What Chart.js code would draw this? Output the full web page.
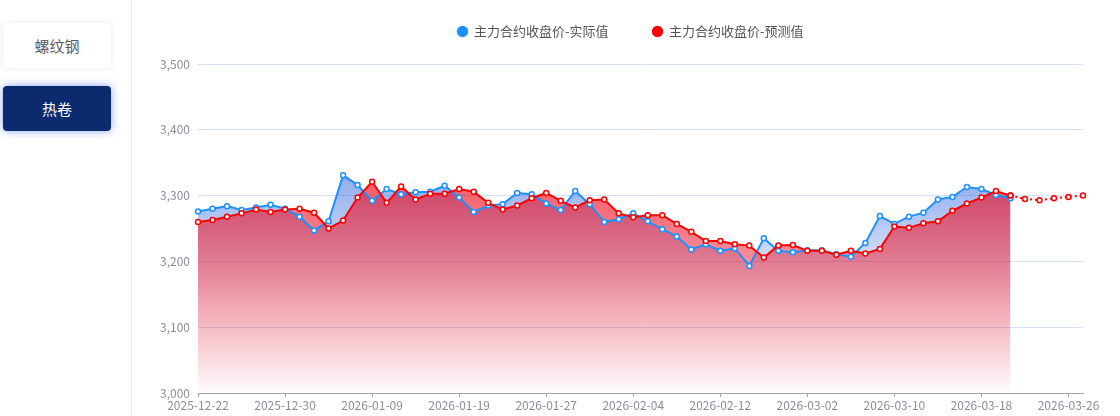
<!DOCTYPE html>
<html>
<head>
<meta charset="utf-8">
<script src="https://cdn.jsdelivr.net/npm/chart.js@4.4.1/dist/chart.umd.min.js"></script>
<style>
  html, body { margin: 0; padding: 0; background: #fff; width: 1120px; height: 416px; overflow: hidden; font-family: 'Noto Sans CJK SC', sans-serif; }
  .btn { position: absolute; left: 3px; width: 108px; height: 45px; border-radius: 4px; display: flex; align-items: center; justify-content: center; font-size: 15px; }
  #b1 { top: 23px; background: #fff; color: #5a5a66; box-shadow: 0 0 6px rgba(0,0,0,0.09); }
  #b2 { top: 86px; background: #0c2a6e; color: #fff; box-shadow: 0 0 8px rgba(40,90,230,0.55); }
  #divider { position: absolute; left: 131px; top: 0; width: 1px; height: 416px; background: #e2eaf6; }
  #wrap { position: absolute; left: 138px; top: -19px; width: 982px; height: 435px; }
</style>
</head>
<body>
<div class="btn" id="b1">螺纹钢</div>
<div class="btn" id="b2">热卷</div>
<div id="divider"></div>
<div id="wrap"><canvas id="c"></canvas></div>
<script>
const dates = [
  '2025-12-22','2025-12-23','2025-12-24','2025-12-25','2025-12-26','2025-12-29','2025-12-30','2025-12-31',
  '2026-01-05','2026-01-06','2026-01-07','2026-01-08','2026-01-09','2026-01-12','2026-01-13','2026-01-14',
  '2026-01-15','2026-01-16','2026-01-19','2026-01-20','2026-01-21','2026-01-22','2026-01-23','2026-01-26',
  '2026-01-27','2026-01-28','2026-01-29','2026-01-30','2026-02-02','2026-02-03','2026-02-04','2026-02-05',
  '2026-02-06','2026-02-09','2026-02-10','2026-02-11','2026-02-12','2026-02-13','2026-02-24','2026-02-25',
  '2026-02-26','2026-02-27','2026-03-02','2026-03-03','2026-03-04','2026-03-05','2026-03-06','2026-03-09',
  '2026-03-10','2026-03-11','2026-03-12','2026-03-13','2026-03-16','2026-03-17','2026-03-18','2026-03-19',
  '2026-03-20','2026-03-23','2026-03-24','2026-03-25','2026-03-26','2026-03-27'
];
const actual = [
  3276,3280,3284,3278,3282,3286,3280,3268,3247,3261,3331,3316,3292,3310,3302,3305,
  3306,3315,3297,3275,3285,3287,3304,3302,3288,3278,3307,3287,3260,3264,3273,3261,
  3249,3238,3218,3226,3216,3220,3193,3235,3216,3214,3217,3217,3211,3207,3228,3269,
  3257,3268,3274,3294,3298,3313,3310,3301,3296
];
const predicted = [
  3260,3263,3268,3273,3279,3275,3279,3280,3274,3250,3262,3297,3321,3289,3314,3294,
  3303,3303,3310,3306,3289,3279,3285,3296,3304,3292,3282,3293,3294,3273,3267,3270,
  3270,3257,3245,3231,3231,3226,3224,3206,3224,3225,3216,3216,3210,3216,3212,3219,
  3253,3251,3258,3261,3277,3288,3297,3307,3300,3295,3293,3296,3298,3300
];
const yTicks = [3000, 3100, 3200, 3300, 3400, 3500];
const labelEvery = 6;

const lastActual = actual.length - 1;
const predSolid = predicted.map((v, i) => i <= lastActual ? v : null);
const predDotted = predicted.map((v, i) => i >= lastActual ? v : null);

function grad(ctx, rgb, stops, maxV) {
  const c = ctx.chart, a = c.chartArea;
  if (!a) return 'transparent';
  const top = c.scales.y.getPixelForValue(maxV);
  const g = c.ctx.createLinearGradient(0, top, 0, a.bottom);
  stops.forEach(([o, al]) => g.addColorStop(o, `rgba(${rgb},${al})`));
  return g;
}

const legendFit = {
  id: 'legendFit',
  beforeInit(chart) {
    const orig = chart.legend.fit;
    chart.legend.fit = function () { orig.call(this); this.height = 83; };
  },
  afterLayout(chart) {
    chart.legend.left = 40;
  }
};

new Chart(document.getElementById('c'), {
  type: 'line',
  data: {
    labels: dates,
    datasets: [
      {
        label: '主力合约收盘价-实际值', data: actual, order: 2,
        borderColor: '#1e90ff', borderWidth: 2,
        backgroundColor: ctx => grad(ctx, '30,90,220', [[0, 0.5], [0.25, 0.3], [0.6, 0.05], [1, 0]], Math.max(...actual)),
        fill: 'start', tension: 0,
        pointRadius: 2.5, pointBorderWidth: 1.5, pointBackgroundColor: '#fff', pointBorderColor: '#1e90ff'
      },
      {
        label: '主力合约收盘价-预测值', data: predSolid, order: 1,
        borderColor: '#ff0000', borderWidth: 2,
        backgroundColor: ctx => grad(ctx, '240,10,30', [[0, 0.66], [0.5, 0.4], [1, 0.01]], Math.max(...predSolid.filter(v => v !== null))),
        fill: 'start', tension: 0,
        pointRadius: 2.5, pointBorderWidth: 1.5, pointBackgroundColor: '#fff', pointBorderColor: '#ff0000'
      },
      {
        label: 'forecast', data: predDotted, order: 0,
        borderColor: '#ff0000', borderWidth: 2, borderDash: [2, 3],
        fill: false, tension: 0,
        pointRadius: 2.5, pointBorderWidth: 1.5, pointBackgroundColor: '#fff', pointBorderColor: '#ff0000'
      }
    ]
  },
  options: {
    responsive: true,
    maintainAspectRatio: false,
    animation: false,
    layout: { padding: { left: 0, right: 37, top: 0, bottom: 0 } },
    font: { family: "'Noto Sans CJK SC', sans-serif" },
    plugins: {
      filler: { drawTime: 'beforeDatasetsDraw' },
      tooltip: { enabled: false },
      legend: {
        display: true,
        position: 'top',
        labels: {
          usePointStyle: true,
          boxWidth: 10,
          boxHeight: 8,
          padding: 44,
          color: '#555',
          font: { size: 13, family: "'Noto Sans CJK SC', sans-serif" },
          generateLabels(chart) {
            const items = Chart.defaults.plugins.legend.labels.generateLabels(chart);
            return items.filter(i => i.datasetIndex < 2)
              .sort((a, b) => a.datasetIndex - b.datasetIndex)
              .map(i => {
                const col = chart.data.datasets[i.datasetIndex].borderColor;
                i.fillStyle = col; i.strokeStyle = col; i.lineWidth = 0;
                i.pointStyle = 'circle'; i.fontColor = '#555'; i.lineDash = [];
                return i;
              });
          }
        }
      }
    },
    scales: {
      x: {
        type: 'category',
        offset: false,
        afterFit(s) { s.height = 23; },
        grid: {
          drawOnChartArea: false, drawTicks: true, tickLength: 4,
          tickColor: ctx => (ctx.index % labelEvery === 0 && ctx.index < dates.length - 1) ? '#a0a4ad' : 'rgba(0,0,0,0)'
        },
        border: { display: true, color: '#a0a4ad', width: 1 },
        ticks: {
          autoSkip: false, maxRotation: 0, minRotation: 0, padding: 1,
          color: '#8a8e99', font: { size: 12, family: "'Noto Sans CJK SC', sans-serif" },
          callback: (v, i) => (i % labelEvery === 0 && i < dates.length - 1) ? dates[i] : ''
        }
      },
      y: {
        min: yTicks[0], max: yTicks[yTicks.length - 1],
        afterFit(s) { s.width = 60; },
        afterBuildTicks(s) { s.ticks = yTicks.map(v => ({ value: v })); },
        grid: { color: '#d3e2f7', drawTicks: false, lineWidth: 1 },
        border: { display: false },
        ticks: {
          padding: 8, color: '#8a8e99',
          font: { size: 12, family: "'Noto Sans CJK SC', sans-serif" },
          callback: v => v.toLocaleString('en-US')
        }
      }
    }
  },
  plugins: [legendFit]
});
</script>
</body>
</html>
